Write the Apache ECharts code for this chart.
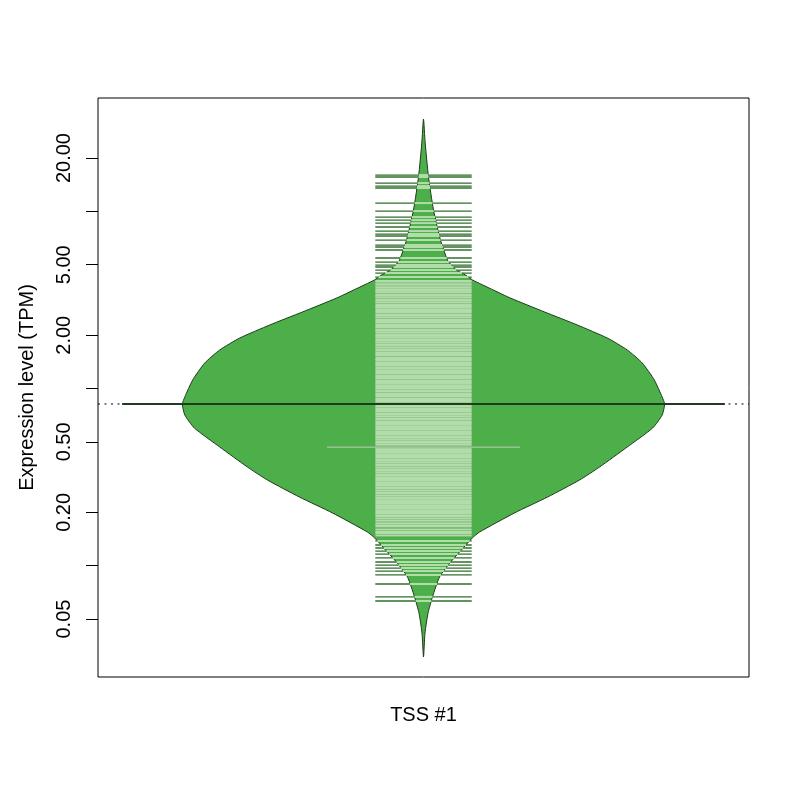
<!DOCTYPE html>
<html>
<head>
<meta charset="utf-8">
<script src="https://cdn.jsdelivr.net/npm/echarts@6/dist/echarts.min.js"></script>
<style>
  html, body { margin: 0; padding: 0; background: #fff; }
  #chart { width: 800px; height: 800px; }
</style>
</head>
<body>
<div id="chart"></div>
<script>
// single bean, y values are log10(TPM)
var categories = ['TSS #1']
var tickValues = [0.05, 0.1, 0.2, 0.5, 1, 2, 5, 10, 20]
var labelValues = [0.05, 0.2, 0.5, 2, 5, 20]

// density outline of the bean: level (log10 TPM) and half width (x units)
var beanLevels = [1.521, 1.386, 1.194, 1.008, 0.838, 0.725, 0.697, 0.669, 0.641, 0.613,
  0.556, 0.511, 0.432, 0.359, 0.285, 0.218, 0.144, 0.048, -0.048, -0.087,
  -0.149, -0.223, -0.330, -0.443, -0.516, -0.612, -0.702, -0.810, -0.843, -0.911,
  -0.979, -1.064, -1.176, -1.267, -1.380, -1.515]
var beanHalfWidth = [0, 0.0028, 0.0083, 0.0166, 0.0282, 0.0398, 0.0464, 0.0547, 0.0697, 0.0813,
  0.116, 0.144, 0.201, 0.255, 0.305, 0.338, 0.363, 0.383, 0.396, 0.400,
  0.396, 0.380, 0.338, 0.292, 0.259, 0.206, 0.151, 0.093, 0.081, 0.063,
  0.045, 0.0265, 0.0149, 0.0075, 0.0025, 0]

// beanlines (one per observation), log10 TPM
var upperLines = [1.205, 1.194, 1.160, 1.143, 1.132, 1.047, 1.002, 0.968, 0.951, 0.934,
  0.912, 0.889, 0.872, 0.861, 0.838, 0.810, 0.799, 0.782, 0.737, 0.714,
  0.697, 0.686, 0.669, 0.652, 0.629, 0.607]
var middleLines = [0.595, 0.588, 0.578, 0.571, 0.560, 0.551, 0.543, 0.531, 0.522, 0.514,
  0.503, 0.494, 0.486, 0.475, 0.466, 0.457, 0.447, 0.438, 0.429, 0.418,
  0.409, 0.401, 0.390, 0.381, 0.372, 0.362, 0.353, 0.344, 0.334, 0.326,
  0.316, 0.305, 0.297, 0.289, 0.278, 0.269, 0.260, 0.250, 0.241, 0.232,
  0.222, 0.214, 0.204, 0.195, 0.186, 0.176, 0.167, 0.158, 0.149, 0.139,
  0.130, 0.121, 0.111, 0.102, 0.093, 0.084, 0.074, 0.065, 0.056, 0.046,
  0.037, 0.028, 0.018, 0.009, 0.000, -0.009, -0.018, -0.028, -0.037, -0.046,
  -0.056, -0.065, -0.074, -0.083, -0.093, -0.102, -0.111, -0.121, -0.130, -0.139,
  -0.148, -0.158, -0.167, -0.176, -0.186, -0.195, -0.204, -0.213, -0.223, -0.232,
  -0.241, -0.251, -0.260, -0.269, -0.278, -0.288, -0.297, -0.306, -0.315, -0.325,
  -0.334, -0.343, -0.353, -0.362, -0.371, -0.380, -0.390, -0.399, -0.408, -0.418,
  -0.427, -0.436, -0.445, -0.455, -0.464, -0.473, -0.483, -0.492, -0.501, -0.510,
  -0.520, -0.529, -0.538, -0.548, -0.557, -0.566, -0.575, -0.585, -0.594, -0.603,
  -0.613, -0.622, -0.631, -0.640, -0.650, -0.659, -0.668, -0.678, -0.687, -0.696,
  -0.706, -0.715, -0.724, -0.733, -0.746, -0.760, -0.771, -0.779, -0.796, -0.808,
  -0.815, -0.830]
var lowerLines = [-0.860, -0.883, -0.900, -0.917, -0.934, -0.956, -0.979, -0.996, -1.013, -1.030,
  -1.052, -1.103, -1.176, -1.199]
// values seen more than once get a longer line
var tiedValues = [-0.330]
var tiedCounts = [2]

var beanMean = -0.087

var fillColor = '#4daf4a'
var edgeColor = '#1e3b1c'
var innerColor = '#b3dcab'
var outerColor = '#2f6f2c'
var meanColor = '#1f3d1c'
var lineHalf = 0.08

function widthAt(v) {
  if (v > beanLevels[0] || v < beanLevels[beanLevels.length - 1]) return 0
  for (var i = 0; i < beanLevels.length - 1; i++) {
    var a = beanLevels[i], b = beanLevels[i + 1]
    if (v <= a && v >= b) {
      var t = (a - v) / (a - b)
      return beanHalfWidth[i] + t * (beanHalfWidth[i + 1] - beanHalfWidth[i])
    }
  }
  return 0
}

var lineData = []
upperLines.concat(middleLines, lowerLines).forEach(function (v) {
  lineData.push([1, v, 1])
})
tiedValues.forEach(function (v, i) {
  lineData.push([1, v, tiedCounts[i]])
})

var chart = echarts.init(document.getElementById('chart'))

chart.setOption({
  animation: false,
  backgroundColor: '#fff',
  textStyle: { fontFamily: 'Liberation Sans, Arial, sans-serif' },
  grid: {
    left: 98,
    right: 51,
    top: 98,
    bottom: 123,
    show: true,
    borderColor: '#000',
    borderWidth: 1,
    backgroundColor: 'transparent'
  },
  xAxis: {
    type: 'value',
    min: 0.46,
    max: 1.54,
    axisLine: { show: false },
    splitLine: { show: false },
    axisTick: {
      show: true,
      customValues: [1],
      length: 12,
      lineStyle: { color: '#000' }
    },
    axisLabel: {
      customValues: [1],
      margin: 28,
      fontSize: 20,
      color: '#000',
      formatter: function () { return categories[0] }
    }
  },
  yAxis: {
    type: 'value',
    min: -1.628,
    max: 1.640,
    name: 'Expression level (TPM)',
    nameLocation: 'middle',
    nameGap: 61,
    nameTextStyle: { fontSize: 20, color: '#000' },
    axisLine: { show: false },
    splitLine: { show: false },
    axisTick: {
      show: true,
      customValues: tickValues.map(function (t) { return Math.log10(t) }),
      length: 12,
      lineStyle: { color: '#000' }
    },
    axisLabel: {
      customValues: labelValues.map(function (t) { return Math.log10(t) }),
      rotate: 90,
      margin: 24,
      fontSize: 20,
      color: '#000',
      formatter: function (v) { return Math.pow(10, v).toFixed(2) }
    }
  },
  series: [
    {
      // overall mean, dotted across the plot
      type: 'line',
      silent: true,
      symbol: 'none',
      z: 1,
      data: [[0.46, beanMean], [1.54, beanMean]],
      lineStyle: { color: '#000', width: 1, type: [2, 4.5] }
    },
    {
      type: 'custom',
      silent: true,
      z: 2,
      data: [[1, 0]],
      renderItem: function (params, api) {
        var n = beanLevels.length
        var pts = []
        for (var i = 0; i < n; i++) {
          pts.push(api.coord([1 + beanHalfWidth[i], beanLevels[i]]))
        }
        for (var j = n - 2; j > 0; j--) {
          pts.push(api.coord([1 - beanHalfWidth[j], beanLevels[j]]))
        }
        return {
          type: 'polygon',
          shape: { points: pts, smooth: 0.2 },
          style: { fill: fillColor, stroke: edgeColor, lineWidth: 1 }
        }
      }
    },
    {
      type: 'custom',
      silent: true,
      z: 3,
      data: lineData,
      renderItem: function (params, api) {
        var v = api.value(1)
        var half = lineHalf * api.value(2)
        var w = Math.min(widthAt(v), half)
        var a = api.coord([1 - half, v]), b = api.coord([1 + half, v])
        var children = [{
          type: 'line',
          shape: { x1: a[0], y1: a[1], x2: b[0], y2: b[1] },
          style: { stroke: outerColor, lineWidth: 1.3 }
        }]
        if (w > 0) {
          var c = api.coord([1 - w, v]), d = api.coord([1 + w, v])
          children.push({
            type: 'line',
            shape: { x1: c[0], y1: c[1], x2: d[0], y2: d[1] },
            style: { stroke: innerColor, lineWidth: half > lineHalf ? 1.3 : 2 }
          })
        }
        return { type: 'group', children: children }
      }
    },
    {
      // bean mean line
      type: 'line',
      silent: true,
      symbol: 'none',
      z: 4,
      data: [[0.5, beanMean], [1.5, beanMean]],
      lineStyle: { color: meanColor, width: 2 }
    }
  ]
})
</script>
</body>
</html>
